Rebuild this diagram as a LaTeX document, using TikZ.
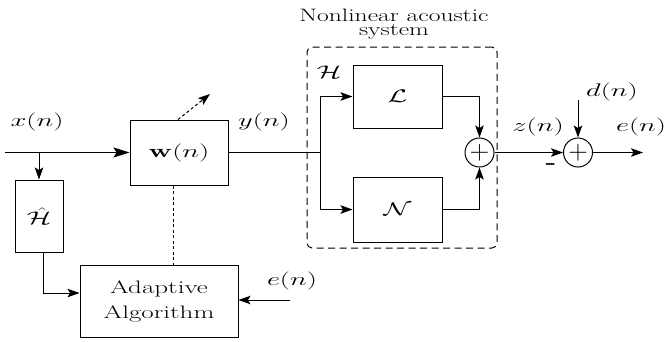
\RequirePackage{fix-cm}
\documentclass[tikz,border=0pt]{standalone}
\usepackage{amsmath, amssymb}
\usepackage{graphicx}
\usepackage{tikz}
\usetikzlibrary{arrows.meta, positioning, calc}

\newcommand{\wtext}[1]{\scalebox{1.38}[0.88]{#1}}
\newcommand{\wword}[1]{\scalebox{1.5}[1]{#1}}

\begin{document}
\begin{tikzpicture}[
  x=1pt, y=-1pt, line width=1pt,
  block/.style={draw, font=\huge, align=center, inner sep=0pt},
  lbl/.style={font=\huge, inner sep=0pt},
  sum/.style={draw, circle, minimum size=29pt, inner sep=0pt, font=\huge},
  arrow/.style={-{Stealth[length=12pt, width=8.5pt, inset=2.5pt]}},
  fine/.style={dash pattern=on 3pt off 2.5pt},
  sysbox/.style={draw, dash pattern=on 7pt off 4.5pt, rounded corners=5pt, minimum width=190pt, minimum height=201pt} % container
]
  \useasboundingbox (0,0) rectangle (669,341);

  \node[sysbox] (sys) at (402,147.5) {};
  \node[align=center, inner sep=0pt, font=\fontsize{18}{13.5}\selectfont] (ttl) at (394,24) {\scalebox{1.42}[1]{Nonlinear acoustic}\\\scalebox{1.42}[1]{system}};

  \node[block, minimum width=98pt, minimum height=65pt] (W) at (179,152.5) {\wtext{$\mathbf{w}(n)$}};
  \node[block, minimum width=48pt, minimum height=72pt] (Hh) at (39,216) {\wtext{$\hat{\mathcal{H}}$}};
  \node[block, minimum width=158pt, minimum height=72pt, font=\fontsize{18}{25}\selectfont] (alg) at (159,301) {\wword{Adaptive}\\\wword{Algorithm}};
  \node[block, minimum width=89pt, minimum height=63pt] (L) at (397.5,96.5) {\wtext{$\mathcal{L}$}};
  \node[block, minimum width=89pt, minimum height=65pt] (N) at (397.5,209.5) {\wtext{$\mathcal{N}$}};
  \node[sum] (s1) at (479.5,152.5) {\scalebox{1.3}{$+$}};
  \node[sum] (s2) at (578,152.5) {\scalebox{1.3}{$+$}};

  \coordinate (in) at (5,152.5);
  \coordinate (jn) at (320,152.5);
  \coordinate (ein) at (290,300);
  \coordinate (din) at (578,100);
  \coordinate (out) at (643,152.5);
  \coordinate (wtip) at (210,94);

  \node[lbl] (xl) at (37,122) {\wtext{$x(n)$}};
  \node[lbl] (yl) at (264,122) {\wtext{$y(n)$}};
  \node[lbl] (el) at (292,281) {\wtext{$e(n)$}};
  \node[lbl] (Hl) at (329,72) {\wtext{$\mathcal{H}$}};
  \node[lbl] (zl) at (538,127) {\wtext{$z(n)$}};
  \node[lbl] (dl) at (612,92) {\wtext{$d(n)$}};
  \node[lbl] (eo) at (641,127) {\wtext{$e(n)$}};
  \node[lbl] (mn) at (551,166) {\wtext{\bfseries -}};

  \draw[line width=1.5pt, -{Stealth[length=16pt, width=10pt, inset=3pt]}] (in) -- (W);
  \draw[arrow] (Hh.north |- in) -- (Hh);
  \draw[arrow] ([xshift=4pt]Hh.south) |- ([yshift=8pt]alg.west);
  \draw[arrow] (ein) -- (ein -| alg.east);
  \draw[fine] ([xshift=-6pt]W.south) -- ([xshift=-6pt]W.south |- alg.north);
  \draw[arrow, fine] ([xshift=-1pt]W.north) -- (wtip);

  \draw (W) -- (jn);
  \draw[arrow] (jn) |- (L);
  \draw[arrow] (jn) |- (N);
  \draw[arrow] (L) -| (s1);
  \draw[arrow] (N) -| (s1);
  \draw[arrow] (s1) -- (s2);
  \draw[arrow] (din) -- (s2);
  \draw[arrow] (s2) -- (out);
\end{tikzpicture}
\end{document}
